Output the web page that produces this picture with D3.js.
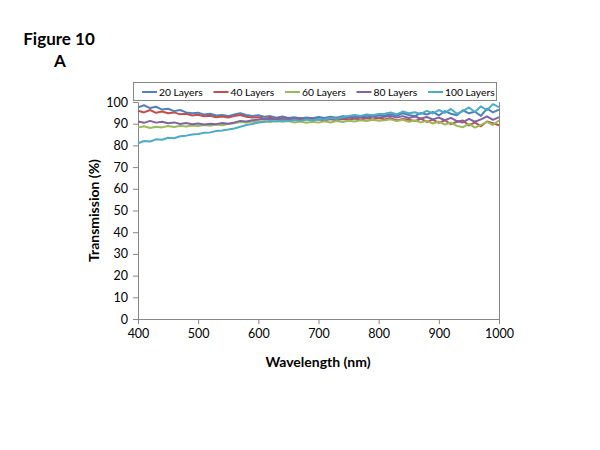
<!DOCTYPE html>
<html><head><meta charset="utf-8">
<script src="https://cdn.jsdelivr.net/npm/d3@7"></script>
<style>body{margin:0;background:#fff}svg{display:block}text{font-family:Lato,"Open Sans",sans-serif}</style>
</head><body>
<svg id="c" width="600" height="450"></svg>
<script>
const wavelengths = d3.range(400, 1001, 10);
const seriesNames = ["20 Layers","40 Layers","60 Layers","80 Layers","100 Layers"];
const seriesColors = ["#4F81BD","#C0504D","#9BBB59","#8064A2","#4BACC6"];
const layers20 = [97.5,98.5,97.2,97.8,96.5,96.9,95.8,96.3,95.2,94.8,95.1,94.2,94.6,93.8,94.0,93.5,94.2,94.8,94.0,93.6,93.9,93.2,93.5,92.8,93.3,92.6,93.0,92.4,92.9,92.5,93.1,92.6,93.2,92.8,93.5,93.0,93.6,93.2,93.8,93.4,94.0,93.8,94.4,93.6,94.8,94.0,93.5,94.9,94.2,95.4,93.8,95.8,94.6,93.9,96.2,94.8,95.5,93.6,97.0,95.2,96.5];
const layers40 = [96.0,95.2,96.3,95.0,95.6,94.8,95.2,94.3,94.6,93.8,94.1,93.4,93.7,93.0,93.3,92.9,93.5,94.0,93.2,92.8,93.0,92.3,92.7,92.1,92.5,91.9,92.3,91.8,92.2,91.7,92.0,91.5,92.1,91.6,92.2,91.8,92.4,91.9,92.5,92.0,92.6,92.0,92.6,91.5,92.2,91.8,91.2,92.3,90.8,91.9,90.4,91.6,89.8,90.9,91.5,89.2,90.6,88.8,91.0,90.2,89.3];
const layers60 = [88.2,88.8,88.0,88.6,88.3,88.9,88.5,89.0,88.7,89.2,88.9,89.4,89.1,89.6,89.3,89.8,90.2,90.8,90.5,91.0,90.7,91.2,90.8,91.3,90.9,91.2,90.6,91.0,90.4,90.9,90.5,91.1,90.6,91.2,90.8,91.4,91.0,91.6,91.2,91.8,91.4,91.6,92.0,91.2,91.8,90.9,91.5,90.6,91.3,90.1,91.0,89.6,90.5,89.0,88.4,89.9,88.2,89.5,90.8,89.4,91.6];
const layers80 = [91.0,90.4,91.3,90.5,90.9,90.2,90.6,89.9,90.3,89.7,90.1,89.6,90.0,89.8,90.3,90.0,90.6,91.3,91.0,91.6,91.8,92.3,91.9,92.4,92.0,92.5,92.1,92.6,92.0,92.4,91.9,92.5,92.1,92.7,92.3,92.9,92.5,93.1,92.7,93.3,92.9,93.2,93.6,92.8,93.5,92.6,93.3,92.4,93.1,92.0,92.8,91.6,92.7,91.2,90.6,92.2,90.9,92.0,93.4,91.8,93.0];
const layers100 = [81.0,82.0,81.8,82.8,82.6,83.5,83.3,84.2,84.5,85.0,85.3,85.8,86.0,86.6,86.9,87.3,87.8,88.6,89.4,89.9,90.5,90.8,91.3,91.0,91.5,91.2,91.7,91.3,91.9,91.6,92.2,91.9,92.6,92.3,93.0,93.5,94.0,93.6,94.3,93.9,94.5,94.6,95.2,94.3,95.6,94.8,95.3,94.5,95.9,94.7,96.3,95.0,96.8,94.6,95.8,97.5,95.4,98.0,96.2,99.0,97.6];
const xTicks = [400,500,600,700,800,900,1000];
const yTicks = [0,10,20,30,40,50,60,70,80,90,100];

const seriesValues = [layers20, layers40, layers60, layers80, layers100];
const svg = d3.select("#c");
const L = 138, R = 499, T = 102, B = 319;
const x = d3.scaleLinear().domain([400,1000]).range([L,R]);
const y = d3.scaleLinear().domain([0,100]).range([B,T]);

svg.append("line").attr("x1",R+0.5).attr("x2",R+0.5).attr("y1",T).attr("y2",B).attr("stroke","#868686");

const xa = svg.append("g").attr("transform",`translate(0,${B})`)
  .call(d3.axisBottom(x).tickValues(xTicks).tickFormat(d3.format("d")).tickSize(5).tickSizeOuter(0).tickPadding(5));
const ya = svg.append("g").attr("transform",`translate(${L},0)`)
  .call(d3.axisLeft(y).tickValues(yTicks).tickFormat(d3.format("d")).tickSize(5).tickSizeOuter(0).tickPadding(5));
[xa,ya].forEach(a=>{
  a.selectAll("path,line").attr("stroke","#868686");
  a.selectAll("text").attr("fill","#000").style("font-size","12.5px").style("font-family","Lato,'Open Sans',sans-serif");
});

const line = d3.line().x((d,i)=>x(wavelengths[i])).y(d=>y(d));
seriesValues.forEach((vals,k)=>{
  svg.append("path").datum(vals).attr("d",line).attr("fill","none")
    .attr("stroke",seriesColors[k]).attr("stroke-width",2).attr("stroke-linejoin","round");
});

const lg = svg.append("g");
lg.append("rect").attr("x",133.5).attr("y",82.5).attr("width",363).attr("height",18)
  .attr("fill","#fff").attr("stroke","#868686");
const lx = d3.scaleLinear().domain([0,4]).range([142,428]);
seriesNames.forEach((n,k)=>{
  const g = lg.append("g").attr("transform",`translate(${lx(k)},92)`);
  g.append("line").attr("x1",0).attr("x2",15).attr("stroke",seriesColors[k]).attr("stroke-width",2);
  g.append("text").attr("x",17).attr("dy","0.35em").style("font-size","10.3px").text(n);
});

svg.append("text").attr("x",318).attr("y",367).attr("text-anchor","middle")
  .style("font-size","14px").style("font-weight","bold").text("Wavelength (nm)");
svg.append("text").attr("transform",`translate(99,${(T+B)/2}) rotate(-90)`).attr("text-anchor","middle")
  .style("font-size","14px").style("font-weight","bold").text("Transmission (%)");
svg.append("text").attr("x",59).attr("y",45).attr("text-anchor","middle")
  .style("font-size","17px").style("font-weight","bold").text("Figure 10");
svg.append("text").attr("x",60).attr("y",67).attr("text-anchor","middle")
  .style("font-size","17px").style("font-weight","bold").text("A");
</script>
</body></html>
